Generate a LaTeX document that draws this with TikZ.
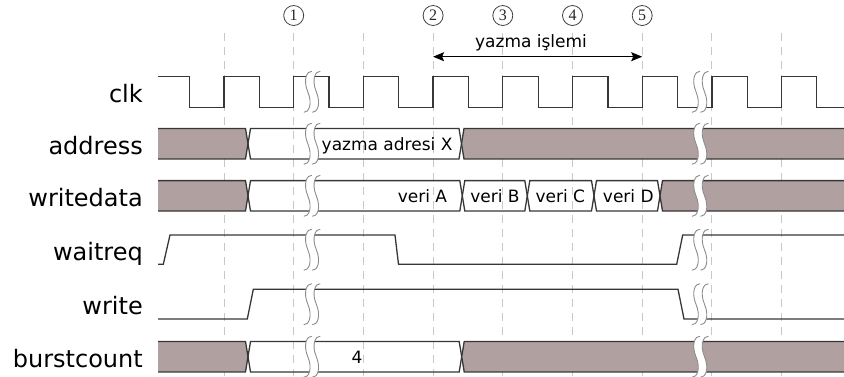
\documentclass[tikz,border=0pt]{standalone}
\usepackage{fontspec}
\setmainfont{DejaVu Sans}
\newfontfamily\markfont{Liberation Serif}
\usetikzlibrary{arrows.meta}
\definecolor{busfill}{RGB}{176,160,159}
\definecolor{wire}{RGB}{55,55,55}
\definecolor{gridc}{RGB}{200,200,200}
\definecolor{brkc}{RGB}{140,140,140}

% one bus segment: style, left crossing x, right crossing x, centre y
\newcommand{\tdseg}[4]{%
  \path[#1] (#2,#4) -- (#2+2.5,#4-15.2) -- (#3-2.5,#4-15.2) -- (#3,#4)
    -- (#3-2.5,#4+15.2) -- (#2+2.5,#4+15.2) -- cycle;}

\tikzset{
  brk/.pic={
    \fill[white] (4,-20.5) .. controls (-1,-21) and (-5,-12) .. (0,0)
        .. controls (5,12) and (1,21) .. (-4,20.5)
        -- (4.5,20.5) .. controls (9.5,21) and (13.5,12) .. (8.5,0)
        .. controls (3.5,-12) and (7.5,-21) .. (12.5,-20.5) -- cycle;
    \draw[brkc,line width=0.9pt] (4,-20.5) .. controls (-1,-21) and (-5,-12) .. (0,0)
        .. controls (5,12) and (1,21) .. (-4,20.5);
    \draw[brkc,line width=0.9pt] (12.5,-20.5) .. controls (7.5,-21) and (3.5,-12) .. (8.5,0)
        .. controls (13.5,12) and (9.5,21) .. (4.5,20.5);
  }
}

\begin{document}
\begin{tikzpicture}[x=1pt,y=-1pt,
  sig/.style={draw=wire,line width=1.3pt,line join=miter},
  busgray/.style={fill=busfill,draw=wire,line width=1.3pt},
  busopen/.style={draw=wire,line width=1.3pt},
  gridline/.style={draw=gridc,line width=1pt,dash pattern=on 8pt off 6pt},
  lbl/.style={anchor=base east,inner sep=0pt,font=\fontsize{24}{28}\selectfont,text=black},
  val/.style={anchor=base,inner sep=0pt,font=\fontsize{17}{20}\selectfont,text=black},
  num/.style={circle,draw=black!75,line width=0.8pt,minimum size=20pt,inner sep=0pt,
    font=\markfont\fontsize{16}{18}\selectfont,text=black!85},
]
\useasboundingbox (0,0) rectangle (844,376);

% clock-edge guides
\foreach \k in {0,...,8}
  \draw[gridline] ({224+69.7*\k},33) -- ({224+69.7*\k},376);

% cycle markers
\foreach \k/\n/\t in {1/m1/1,3/m2/2,4/m3/3,5/m4/4,6/m5/5}
  \node[num] (\n) at ({224+69.7*\k},15.5) {\t};

% write burst span
\coordinate (ws) at (433.1,56.7);
\coordinate (we) at (642.2,56.7);
\draw[line width=1pt,{Stealth[length=11pt,width=9pt,inset=2pt]}-{Stealth[length=11pt,width=9pt,inset=2pt]}] (ws) -- (we);
\node[val] (wl) at (531,47) {yazma işlemi};

% signal names
\node[lbl] (lclk)  at (143,102.5) {clk};
\node[lbl] (laddr) at (143,154.4) {address};
\node[lbl] (ldata) at (143,206.5) {writedata};
\node[lbl] (lwait) at (143,260.4) {waitreq};
\node[lbl] (lwr)   at (143,314.9) {write};
\node[lbl] (lbc)   at (143,367.4) {burstcount};

\begin{scope}
\clip (158,0) rectangle (844,376);
% clk
\draw[sig] (158,76.3) foreach \k in {0,...,8} {
    -- ({189.7+69.7*\k},76.3) -- ({189.7+69.7*\k},107.3)
    -- ({224+69.7*\k},107.3) -- ({224+69.7*\k},76.3) }
    -- (816.4,76.3) -- (816.4,107.3) -- (846,107.3);

% address
\tdseg{busgray}{150}{248}{143.7}
\tdseg{busopen}{248}{461.5}{143.7}
\tdseg{busgray}{461.5}{852}{143.7}

% writedata
\tdseg{busgray}{150}{248}{195.8}
\tdseg{busopen}{248}{462.3}{195.8}
\tdseg{busopen}{462.3}{527.3}{195.8}
\tdseg{busopen}{527.3}{594}{195.8}
\tdseg{busopen}{594}{660}{195.8}
\tdseg{busgray}{660}{852}{195.8}

% waitreq
\draw[sig] (158,264.3) -- (163.3,264.3) -- (170,235) -- (395,235) -- (398.5,264.3)
  -- (676.7,264.3) -- (682.7,235) -- (846,235);

% write
\draw[sig] (158,319) -- (247.3,319) -- (253.3,289.3) -- (678,289.3) -- (684,319) -- (846,319);

% burstcount
\tdseg{busgray}{150}{248}{356.7}
\tdseg{busopen}{248}{461.7}{356.7}
\tdseg{busgray}{461.7}{852}{356.7}
\end{scope}

% time breaks
\foreach \y in {91.8,143.7,195.8,249.7,304.2,356.7} {
  \pic at (307.8,\y) {brk};
  \pic at (696,\y) {brk};
}

% bus values
\node[val,anchor=base west] (vaddr) at (321.5,150) {yazma adresi X};
\node[val] (va) at (422.5,202) {veri A};
\node[val] (vb) at (495,202) {veri B};
\node[val] (vc) at (560.3,202) {veri C};
\node[val] (vd) at (628.3,202) {veri D};
\node[val] (vbc) at (357,363) {4};
\end{tikzpicture}
\end{document}
